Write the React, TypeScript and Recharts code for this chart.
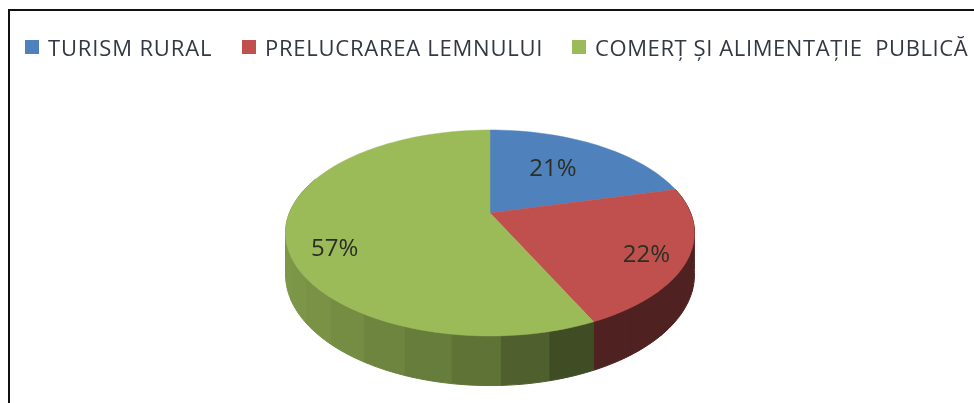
import React from "react";
import { PieChart, Pie, Legend } from "recharts";

const categories = ["TURISM RURAL", "PRELUCRAREA LEMNULUI", "COMERȚ ȘI ALIMENTAȚIE  PUBLICĂ"];
const values = [21, 22, 57];
const colors = ["#4f81bd", "#c0504d", "#9bbb59"];

const labelNudges = [[-17, 4], [8, 5], [-2, 17]];
const legendLefts = [25, 242, 572];
const legendLetterSpacing = [0.85, 0.75, 0.6];

const WIDTH = 974;
const HEIGHT = 403;
const CX = 490;
const CY = 213;
const R = 200.6;
const K = 0.194; // perspective strength
const SQUASH = 0.494;
const DEPTH = 40;

const data = categories.map((name, i) => ({ name, value: values[i], fill: colors[i] }));

const project = (cx: number, cy: number, r: number, deg: number) => {
  const a = (deg * Math.PI) / 180;
  const u = Math.cos(a);
  const v = Math.sin(a);
  const w = 1 + K * v;
  return { x: cx + (r * u) / w, y: cy - (r * SQUASH * v) / w, w, v };
};

const TopFace = (p: any) => {
  const { cx, cy, outerRadius, startAngle, endAngle, fill } = p;
  const n = Math.max(2, Math.ceil(Math.abs(endAngle - startAngle) / 2));
  let d = `M${cx},${cy}`;
  for (let i = 0; i <= n; i++) {
    const q = project(cx, cy, outerRadius, startAngle + ((endAngle - startAngle) * i) / n);
    d += `L${q.x.toFixed(2)},${q.y.toFixed(2)}`;
  }
  return <path d={d + "Z"} fill={fill} stroke={fill} strokeWidth={0.5} />;
};

const darken = (hex: string, f: number) => {
  const c = [1, 3, 5].map((i) => Math.round(parseInt(hex.slice(i, i + 2), 16) * f));
  return `rgb(${c[0]},${c[1]},${c[2]})`;
};

const SideWall = (p: any) => {
  const { cx, cy, outerRadius, startAngle, endAngle, fill } = p;
  const FACET = 12;
  const n = Math.max(1, Math.ceil(Math.abs(endAngle - startAngle) / FACET));
  const out: React.ReactNode[] = [];
  for (let i = 0; i < n; i++) {
    const a0 = startAngle + ((endAngle - startAngle) * i) / n;
    const a1 = startAngle + ((endAngle - startAngle) * (i + 1)) / n;
    const mid = project(cx, cy, outerRadius, (a0 + a1) / 2);
    if (mid.v > 0.3) continue;
    const dx = mid.x - cx;
    const f = Math.max(0.41, dx < 0 ? 0.6 - (0.2 * dx) / 190 : 0.6 - (0.2 * dx) / 80);
    const pts: string[] = [];
    const low: string[] = [];
    for (let j = 0; j <= 6; j++) {
      const q = project(cx, cy, outerRadius, a0 + ((a1 - a0) * j) / 6);
      pts.push(`${q.x.toFixed(2)},${q.y.toFixed(2)}`);
      low.unshift(`${q.x.toFixed(2)},${(q.y + DEPTH / q.w).toFixed(2)}`);
    }
    const col = darken(fill, f);
    out.push(<polygon key={i} points={[...pts, ...low].join(" ")} fill={col} stroke={col} strokeWidth={1} />);
  }
  return <g>{out}</g>;
};

const renderLabel = (p: any) => {
  const { cx, cy, outerRadius, midAngle, value, index } = p;
  const q = project(cx, cy, outerRadius * 0.75, midAngle);
  const [nx, ny] = labelNudges[index];
  return (
    <text
      x={q.x + nx}
      y={q.y + ny}
      textAnchor="middle"
      dominantBaseline="central"
      fontFamily="Open Sans"
      fontSize={24}
      fill="#2a2f24"
    >
      {`${value}%`}
    </text>
  );
};

const renderLegend = (p: any) => (
  <div style={{ position: "relative", width: WIDTH, height: 0 }}>
    {(p.payload || [])
      .filter((e: any) => e.type !== "none")
      .map((e: any, i: number) => (
        <div
          key={i}
          style={{
            position: "absolute",
            left: legendLefts[i],
            top: 0,
            display: "flex",
            alignItems: "center",
            whiteSpace: "pre",
            fontFamily: "Open Sans",
            fontSize: 22,
            lineHeight: "30px",
            color: "#333843",
            letterSpacing: legendLetterSpacing[i],
          }}
        >
          <span style={{ width: 14, height: 14, background: e.color, marginRight: 9, display: "inline-block" }} />
          {e.value}
        </div>
      ))}
  </div>
);

export default function App() {
  return (
    <div style={{ position: "absolute", left: 0, top: 0, width: WIDTH, height: HEIGHT, background: "#fff", overflow: "hidden" }}>
      <div style={{ position: "absolute", left: 8, top: 9, right: 0, bottom: 0, borderLeft: "2px solid #111", borderTop: "2px solid #111" }} />
      <div style={{ position: "absolute", left: 0, top: 0, filter: "blur(0.6px)" }}>
        <PieChart width={WIDTH} height={HEIGHT} margin={{ top: 0, right: 0, bottom: 0, left: 0 }}>
          <Legend content={renderLegend} itemSorter={null} verticalAlign="top" wrapperStyle={{ position: "absolute", left: 0, top: 32, width: WIDTH, height: 0 }} />
          <Pie
            data={data}
            dataKey="value"
            nameKey="name"
            cx={CX}
            cy={CY}
            outerRadius={R}
            startAngle={90}
            endAngle={-270}
            stroke="none"
            legendType="none"
            shape={SideWall}
            isAnimationActive={false}
          />
          <Pie
            data={data}
            dataKey="value"
            nameKey="name"
            cx={CX}
            cy={CY}
            outerRadius={R}
            startAngle={90}
            endAngle={-270}
            stroke="none"
            shape={TopFace}
            label={renderLabel}
            labelLine={false}
            isAnimationActive={false}
          />
        </PieChart>
      </div>
    </div>
  );
}
